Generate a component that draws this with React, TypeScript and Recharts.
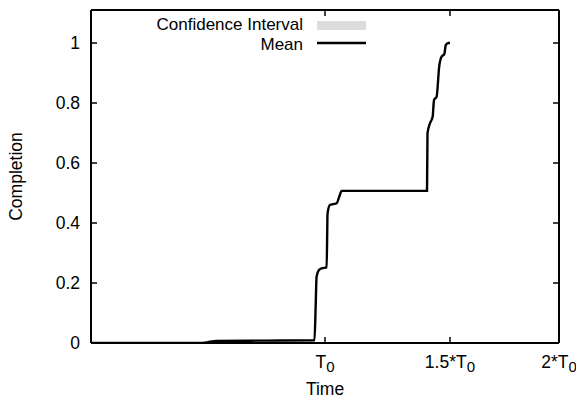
import React from "react";
import { ComposedChart, Line, Area, XAxis, YAxis } from "recharts";

// time in units of T0, completion fraction
const TIME = [
  0, 0.479, 0.5, 0.538, 0.75, 0.955, 0.96, 0.964, 0.974, 0.986, 1.007, 1.011,
  1.021, 1.05, 1.061, 1.071, 1.25, 1.436, 1.438, 1.449, 1.46, 1.466, 1.477,
  1.488, 1.498, 1.51, 1.516, 1.527, 1.534,
];
const MEAN = [
  0, 0, 0.003, 0.007, 0.008, 0.009, 0.12, 0.221, 0.243, 0.249, 0.252, 0.432,
  0.46, 0.466, 0.488, 0.507, 0.507, 0.507, 0.699, 0.733, 0.754, 0.81, 0.821,
  0.921, 0.954, 0.963, 0.993, 1.0, 1.0,
];
const CI_LOW = [
  0, 0, 0.001, 0.004, 0.005, 0.006, 0.11, 0.216, 0.238, 0.245, 0.248, 0.426,
  0.455, 0.462, 0.483, 0.503, 0.503, 0.503, 0.69, 0.727, 0.749, 0.804, 0.816,
  0.914, 0.949, 0.958, 0.988, 0.996, 0.997,
];
const CI_HIGH = [
  0, 0.001, 0.005, 0.01, 0.011, 0.012, 0.13, 0.226, 0.248, 0.253, 0.256, 0.438,
  0.465, 0.47, 0.493, 0.511, 0.511, 0.511, 0.708, 0.739, 0.759, 0.816, 0.826,
  0.928, 0.959, 0.968, 0.998, 1.0, 1.0,
];

const X_TICKS = [1, 1.534, 2];
const X_TICK_LABELS = ["T", "1.5*T", "2*T"];
const X_TICK_SUBS = ["0", "0", "0"];
const Y_TICKS = [0, 0.2, 0.4, 0.6, 0.8, 1];

const FONT = "'Liberation Sans', Arial, Helvetica, sans-serif";
const FS = 17.5;

const data = TIME.map((t, i) => ({
  t,
  mean: MEAN[i],
  ci: [CI_LOW[i], CI_HIGH[i]],
}));

function BottomTick(props: any) {
  const { x, y, payload } = props;
  const i = X_TICKS.indexOf(payload.value);
  return (
    <g>
      <line x1={x} y1={y} x2={x} y2={y - 6} stroke="#000" strokeWidth={1.5} />
      <text x={x} y={y + 25} textAnchor="middle" fontFamily={FONT} fontSize={FS} fill="#000">
        <tspan>{X_TICK_LABELS[i]}</tspan>
        <tspan dy={4} fontSize={15}>{X_TICK_SUBS[i]}</tspan>
      </text>
    </g>
  );
}

function TopTick(props: any) {
  const { x, y } = props;
  return <line x1={x} y1={y} x2={x} y2={y + 6} stroke="#000" strokeWidth={1.5} />;
}

function LeftTick(props: any) {
  const { x, y, payload } = props;
  return (
    <g>
      <line x1={x} y1={y} x2={x + 6} y2={y} stroke="#000" strokeWidth={1.5} />
      <text x={x - 11} y={y + 6} textAnchor="end" fontFamily={FONT} fontSize={FS} fill="#000">
        {payload.value}
      </text>
    </g>
  );
}

function RightTick(props: any) {
  const { x, y } = props;
  return <line x1={x} y1={y} x2={x - 6} y2={y} stroke="#000" strokeWidth={1.5} />;
}

export default function App() {
  const axisLine = { stroke: "#000", strokeWidth: 2 };
  return (
    <div style={{ position: "absolute", left: 0, top: 0, width: 576, height: 403, background: "#fff" }}>
      <ComposedChart
        width={576}
        height={403}
        data={data}
        margin={{ top: 9, right: 16, bottom: 10, left: 11 }}
      >
        <XAxis
          type="number"
          dataKey="t"
          domain={[0, 2]}
          ticks={X_TICKS}
          allowDataOverflow
          height={50}
          tickSize={0}
          tickMargin={0}
          axisLine={axisLine}
          tickLine={false}
          tick={(p: any) => <BottomTick {...p} />}
          label={{
            content: (p: any) => {
              const vb = p.viewBox;
              return (
                <text x={vb.x + vb.width / 2} y={vb.y + 52} textAnchor="middle" fontFamily={FONT} fontSize={FS} fill="#000">
                  Time
                </text>
              );
            },
          }}
        />
        <XAxis
          xAxisId="top"
          orientation="top"
          type="number"
          dataKey="t"
          domain={[0, 2]}
          ticks={X_TICKS}
          allowDataOverflow
          height={1}
          tickSize={0}
          tickMargin={0}
          axisLine={axisLine}
          tickLine={false}
          tick={(p: any) => <TopTick {...p} />}
        />
        <YAxis
          type="number"
          domain={[0, 1.11]}
          ticks={Y_TICKS}
          allowDataOverflow
          width={80}
          tickSize={0}
          tickMargin={0}
          axisLine={axisLine}
          tickLine={false}
          tick={(p: any) => <LeftTick {...p} />}
          label={{
            content: (p: any) => {
              const vb = p.viewBox;
              const cx = 22;
              const cy = vb.y + vb.height / 2;
              return (
                <text
                  x={cx}
                  y={cy}
                  transform={`rotate(-90 ${cx} ${cy})`}
                  textAnchor="middle"
                  fontFamily={FONT}
                  fontSize={FS}
                  fill="#000"
                >
                  Completion
                </text>
              );
            },
          }}
        />
        <YAxis
          yAxisId="right"
          orientation="right"
          type="number"
          domain={[0, 1.11]}
          ticks={Y_TICKS}
          allowDataOverflow
          width={1}
          tickSize={0}
          tickMargin={0}
          axisLine={axisLine}
          tickLine={false}
          tick={(p: any) => <RightTick {...p} />}
        />
        <Area
          xAxisId="top"
          yAxisId="right"
          type="monotoneX"
          dataKey="ci"
          fill="#dddddd"
          fillOpacity={1}
          stroke="none"
          isAnimationActive={false}
        />
        <Line
          type="monotoneX"
          dataKey="mean"
          stroke="#000"
          strokeWidth={2.4}
          dot={false}
          isAnimationActive={false}
        />
      </ComposedChart>
      <svg
        width={576}
        height={60}
        style={{ position: "absolute", left: 0, top: 0, pointerEvents: "none" }}
      >
        <text x={303} y={30} textAnchor="end" fontFamily={FONT} fontSize={17} fill="#000">
          Confidence Interval
        </text>
        <rect x={317} y={21} width={49} height={9} fill="#dddddd" />
        <text x={303} y={50} textAnchor="end" fontFamily={FONT} fontSize={17} fill="#000">
          Mean
        </text>
        <line x1={317} y1={43} x2={366} y2={43} stroke="#000" strokeWidth={2.3} />
      </svg>
    </div>
  );
}
